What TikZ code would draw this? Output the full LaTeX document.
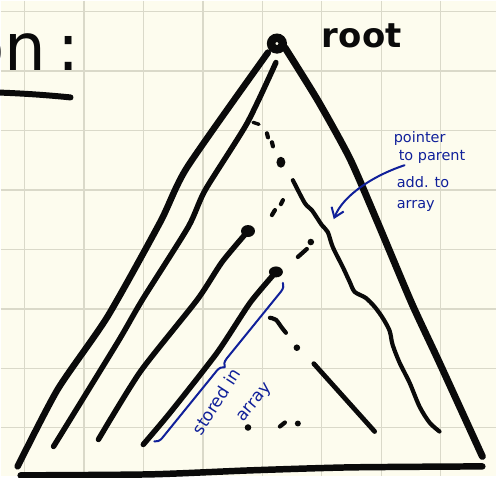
\documentclass[tikz,border=0pt]{standalone}
\usepackage{fontspec}
\setmainfont{DejaVu Sans}
\usetikzlibrary{arrows.meta,decorations.pathreplacing}
\definecolor{paper}{HTML}{FDFCEE}
\definecolor{gridc}{HTML}{DAD9C9}
\definecolor{pen}{HTML}{0A0A0A}
\definecolor{ink}{HTML}{10209A}
\begin{document}
\begin{tikzpicture}[x=1pt,y=-1pt,
  gridline/.style={gridc, line width=1.4pt},
  heavy/.style={pen, line width=6.5pt, line cap=round, line join=round},
  medium/.style={pen, line width=5.5pt, line cap=round, line join=round},
  light/.style={pen, line width=4.2pt, line cap=round, line join=round},
  dotstroke/.style={pen, line width=4.2pt, line cap=round},
  bluepen/.style={ink, line width=2pt, line cap=round, line join=round},
  hand/.style={inner sep=0pt, anchor=base west},
  bluetext/.style={hand, ink, font=\fontsize{14.5}{16}\selectfont},
]
\fill[paper] (0,0) rectangle (497,477);
\foreach \i in {0,...,7} {
  \draw[gridline] ({24+59.6*\i},0) -- ({24+59.6*\i},477);
  \draw[gridline] (0,{11+59.6*\i}) -- (497,{11+59.6*\i});
}
\useasboundingbox (0,0) rectangle (497,477);

% title fragment
\node[hand, pen, font=\fontsize{66}{70}\selectfont] (title) at (-37,70) {on\kern12pt:};
\draw[heavy, line width=6pt] (-5,92) .. controls (25,93) and (50,95) .. (70,97);

% root
\node[hand, pen, font=\bfseries\fontsize{34}{38}\selectfont] (rootlabel) at (322,47) {root};
\draw[pen, line width=8.5pt] (277,43) circle[radius=5.8];

% outer triangle
\draw[heavy] plot[smooth, tension=0.4] coordinates {(268,52) (187,167) (160,222) (107,317) (57,390) (17,467)};
\draw[heavy, line width=7pt] plot[smooth, tension=0.4] coordinates {(285,47) (318,100) (350,158) (377,220) (412,303) (440,363) (483,457)};
\draw[heavy] plot[smooth, tension=0.4] coordinates {(20,476) (150,475) (250,471) (350,468) (483,467)};

% inner left lines
\draw[medium] plot[smooth, tension=0.4] coordinates {(276,62) (247,123) (205,190) (188,227) (142,300) (117,343) (53,447)};
\draw[medium] plot[smooth, tension=0.4] coordinates {(248,231) (222,262) (197,300) (140,372) (98,440)};
\fill[pen] (248,231) ellipse[x radius=7, y radius=6];
\draw[medium] plot[smooth, tension=0.4] coordinates {(276,272) (250,303) (217,353) (170,413) (143,445)};
\fill[pen] (276,272) ellipse[x radius=7, y radius=5.5];

% inner right lines
\draw[light] plot[smooth, tension=0.5] coordinates {(293,180) (305,203) (312,210) (322,225) (328,232) (333,247) (343,267) (350,282) (355,292) (366,298) (375,307) (383,318) (390,331) (393,345) (400,363) (410,383) (420,407) (430,423) (440,432)};
\draw[light, line width=4.8pt] (314,364) -- (375,432);

% dotted middle path
\draw[dotstroke, line width=3.4pt] (253,122) -- (259,124);
\draw[dotstroke] (267,133) -- (268,137);
\draw[dotstroke] (272,142) -- (273,146);
\fill[pen] (281,162) ellipse[x radius=4.5, y radius=5.5];
\draw[dotstroke] (283,200) -- (281,204);
\draw[dotstroke] (272,215) -- (275,210);
\draw[dotstroke] (298,257) -- (307,249);
\fill[pen] (311,242) circle[radius=3.3];
\draw[dotstroke] plot[smooth] coordinates {(270,318) (276,320) (282,328) (286,333)};
\fill[pen] (297,348) circle[radius=3.3];
\fill[pen] (248,428) circle[radius=3.3];
\draw[dotstroke] (280,427) -- (285,423);
\fill[pen] (298,424) circle[radius=3];

% blue annotations
\node[bluetext] (t1) at (394,142) {pointer};
\node[bluetext] (t2) at (399,160) {to parent};
\node[bluetext] (t3) at (397,187) {add. to};
\node[bluetext] (t4) at (397,208) {array};
\coordinate (arrowstart) at (405,165);
\coordinate (arrowtip) at (334,219);
\draw[bluepen, -{Straight Barb[length=9pt,width=13pt]}] (arrowstart) .. controls (372,176) and (343,196) .. (arrowtip);

\coordinate (bracea) at (154,442);
\coordinate (braceb) at (283,283);
\draw[bluepen, decorate, decoration={brace, amplitude=8pt, mirror}] (bracea) -- (braceb);
\node[hand, ink, font=\fontsize{17}{19}\selectfont, rotate=57] (t5) at (201,437) {stored in};
\node[hand, ink, font=\fontsize{17}{19}\selectfont, rotate=50] (t6) at (243,423) {array};
\end{tikzpicture}
\end{document}
